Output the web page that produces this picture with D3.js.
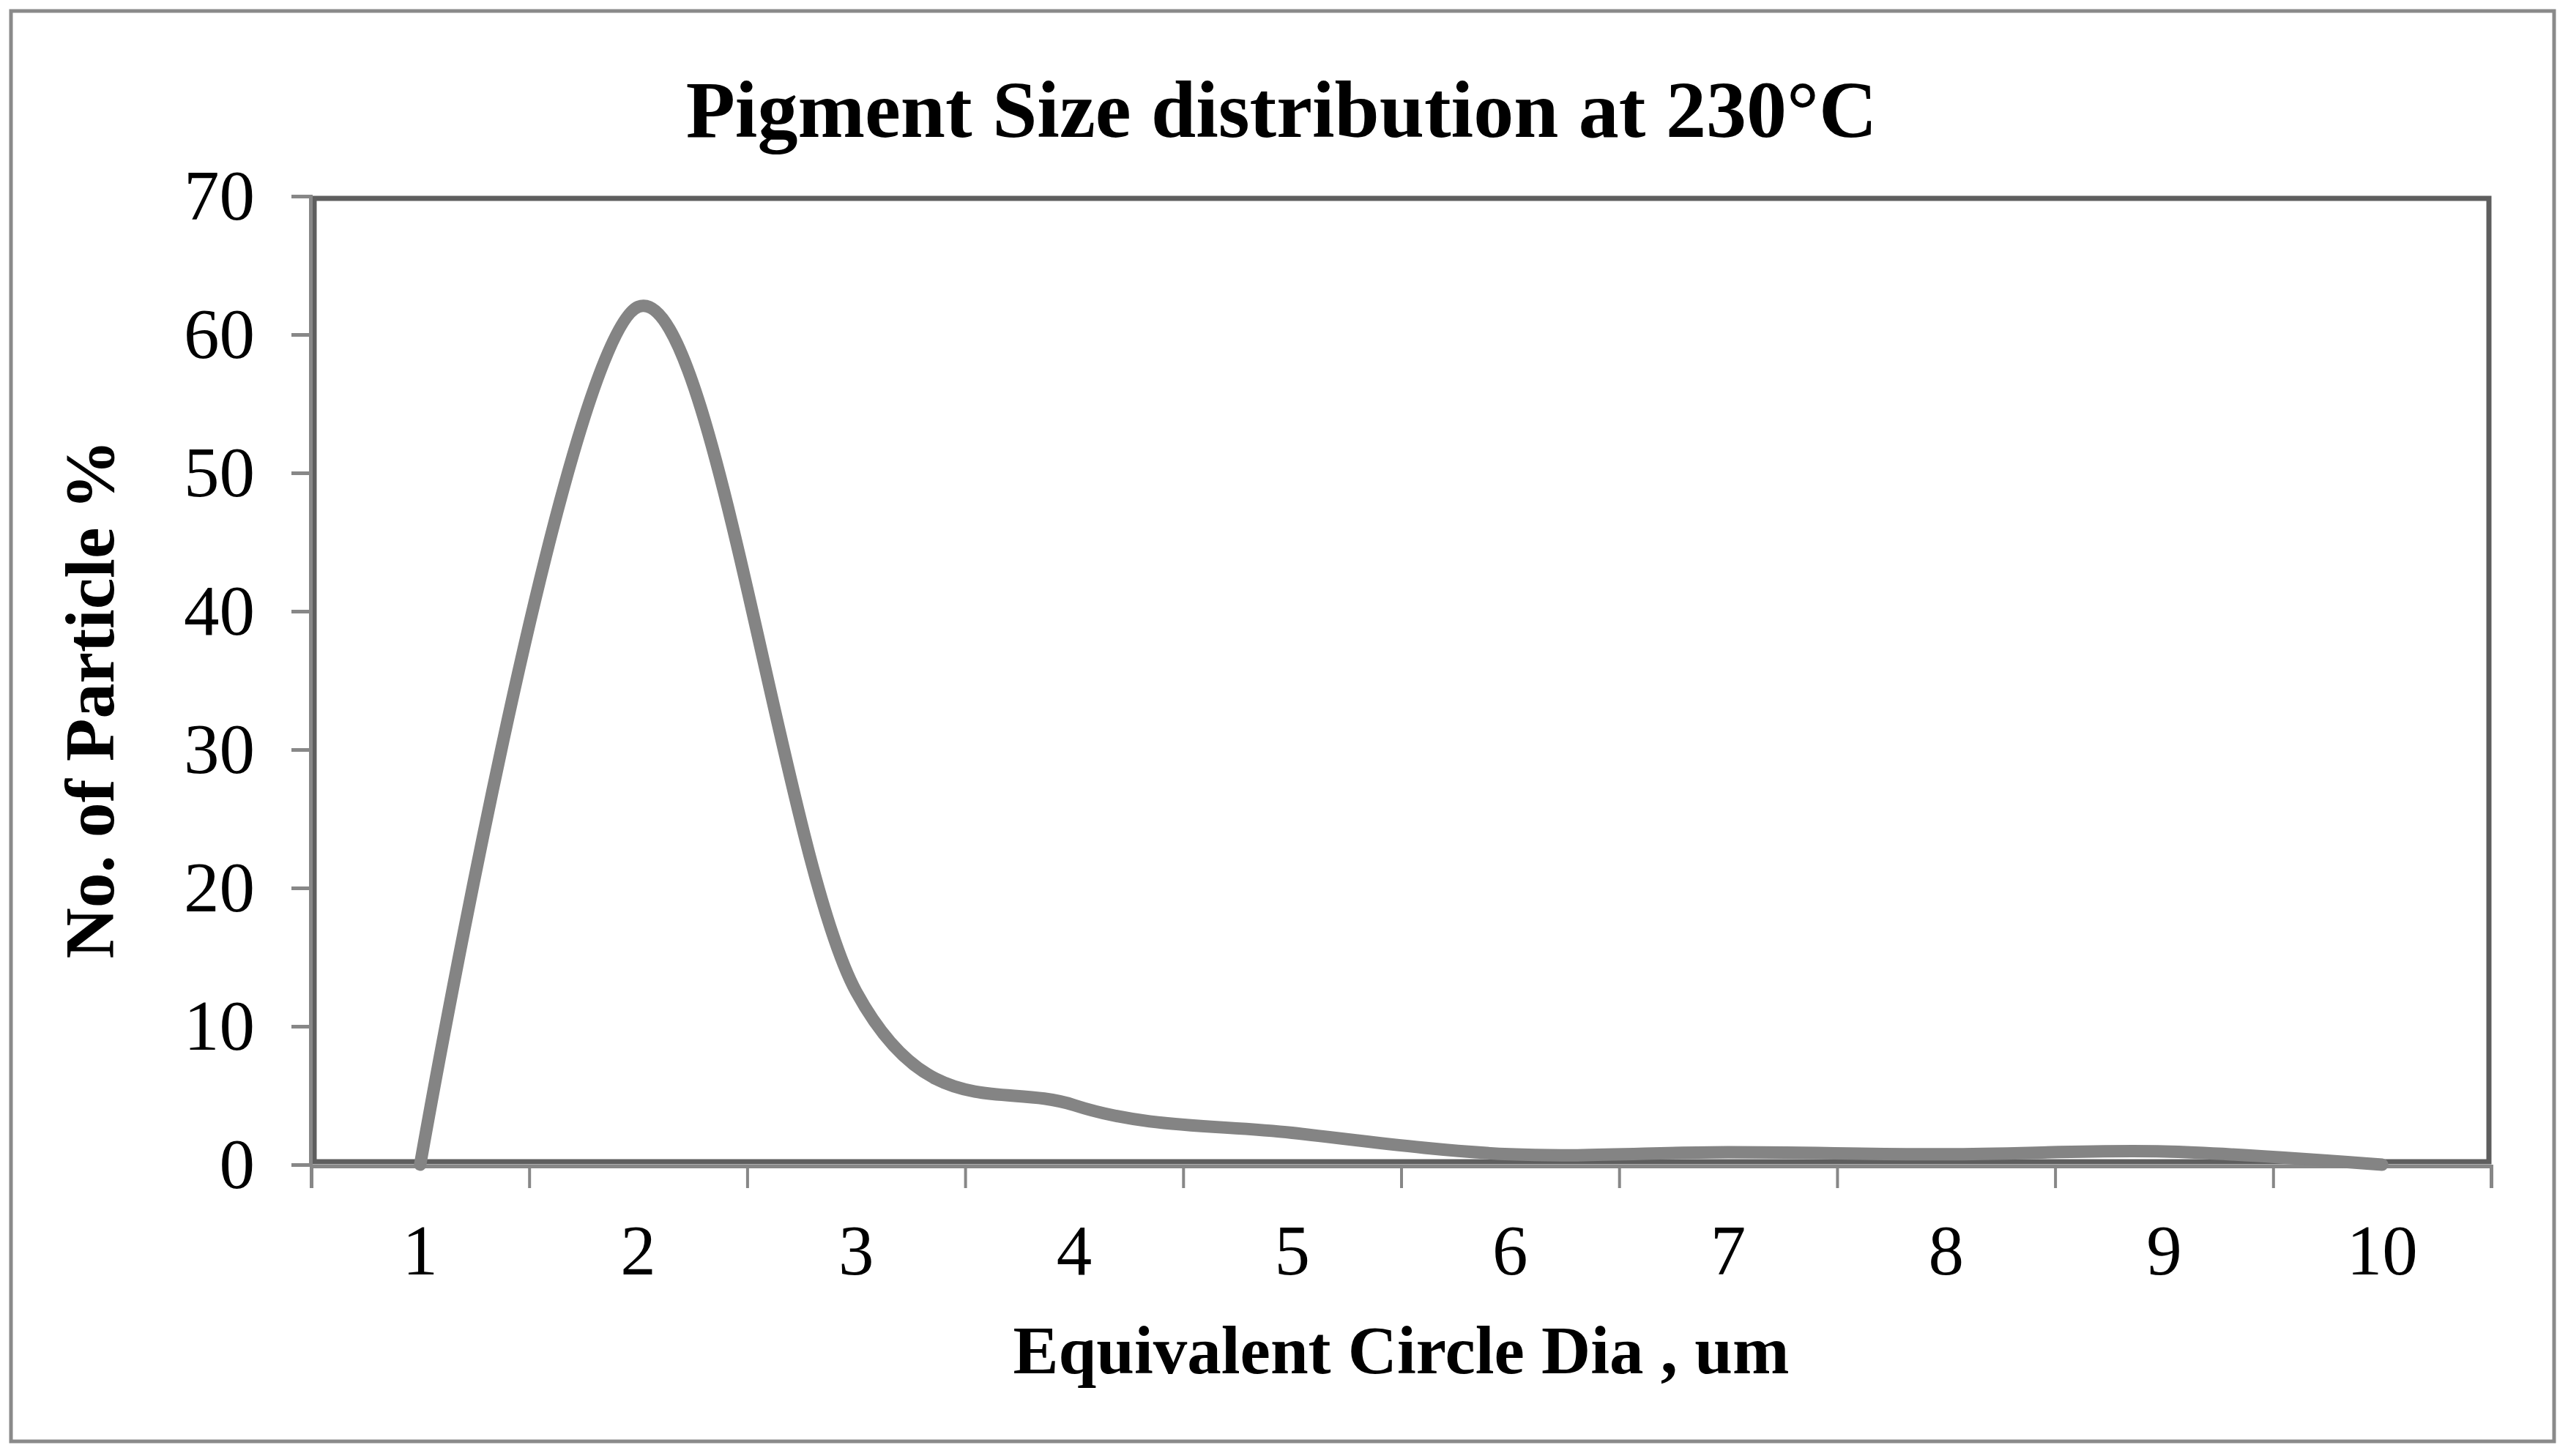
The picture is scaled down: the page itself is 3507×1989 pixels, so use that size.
<!DOCTYPE html>
<html>
<head>
<meta charset="utf-8">
<script src="https://cdn.jsdelivr.net/npm/d3@7"></script>
<style>
    body { margin: 0; background: #fff; }
    text { font-family: "Liberation Serif", "Times New Roman", serif; fill: #000; }
</style>
</head>
<body>
<div id="chart"></div>
<script>
"use strict";

// data
const categories = ["1", "2", "3", "4", "5", "6", "7", "8", "9", "10"];
const particlePct = [0, 62, 12.5, 4.3, 2.3, 0.75, 0.9, 0.75, 0.95, 0];
const yTicks = [0, 10, 20, 30, 40, 50, 60, 70];

const chartTitle = "Pigment Size distribution at 230°C";
const xTitle = "Equivalent Circle Dia , um";
const yTitle = "No. of Particle %";

const msm = {
    width: 3507,
    height: 1989,
    left: 425,
    right: 3402,
    top: 268,
    bottom: 1591
}

let svgContainer = "";

window.onload = function () {
    svgContainer = d3.select("#chart")
        .append("svg")
        .attr("width", msm.width)
        .attr("height", msm.height);

    // outer chart frame
    svgContainer.append("rect")
        .attr("x", 15)
        .attr("y", 15)
        .attr("width", 3473)
        .attr("height", 1954)
        .attr("fill", "#fff")
        .attr("stroke", "#8a8a8a")
        .attr("stroke-width", 5);

    let scales = drawAxes();
    plotLine(scales);
    makeLabels();
}

// axes, ticks and plot frame
function drawAxes() {
    let xScale = d3.scaleBand()
        .domain(categories)
        .range([msm.left, msm.right]);

    // linear helper so the ticks fall between categories like Excel
    let xEdge = d3.scaleLinear()
        .domain([0, categories.length])
        .range([msm.left, msm.right]);

    let yScale = d3.scaleLinear()
        .domain([0, 70])
        .range([msm.bottom, msm.top]);

    // plot area border
    svgContainer.append("rect")
        .attr("x", msm.left + 4)
        .attr("y", msm.top + 3)
        .attr("width", msm.right - msm.left - 7)
        .attr("height", msm.bottom - msm.top - 7)
        .attr("fill", "none")
        .attr("stroke", "#5e5e5e")
        .attr("stroke-width", 7);

    // y axis
    let yAxis = d3.axisLeft(yScale)
        .tickValues(yTicks)
        .tickSize(26)
        .tickPadding(50);
    let yG = svgContainer.append("g")
        .attr("transform", "translate(" + (msm.left - 1) + ",0)")
        .call(yAxis);
    yG.select(".domain").attr("stroke", "#878787").attr("stroke-width", 5);
    yG.selectAll(".tick line").attr("stroke", "#878787").attr("stroke-width", 5);
    yG.selectAll(".tick text")
        .style("font-family", "'Liberation Serif', 'Times New Roman', serif")
        .style("font-size", "97px")
        .attr("fill", "#000");

    // x axis tick marks at category edges
    let xTickAxis = d3.axisBottom(xEdge)
        .tickValues(d3.range(0, categories.length + 1))
        .tickSize(30)
        .tickFormat("");
    let xG = svgContainer.append("g")
        .attr("transform", "translate(0," + (msm.bottom + 2) + ")")
        .call(xTickAxis);
    xG.select(".domain").attr("stroke", "#878787").attr("stroke-width", 5);
    xG.selectAll(".tick line").attr("stroke", "#878787").attr("stroke-width", 4);

    // x axis category labels
    let xLabelAxis = d3.axisBottom(xScale)
        .tickSize(0)
        .tickPadding(81);
    let xL = svgContainer.append("g")
        .attr("transform", "translate(0," + msm.bottom + ")")
        .call(xLabelAxis);
    xL.select(".domain").remove();
    xL.selectAll(".tick text")
        .style("font-family", "'Liberation Serif', 'Times New Roman', serif")
        .style("font-size", "97px")
        .attr("fill", "#000");

    return { x: xScale, y: yScale };
}

// smoothed line like Excel's "smoothed line" option
function plotLine(scales) {
    let half = scales.x.bandwidth() / 2;
    let line = d3.line()
        .x((d, i) => scales.x(categories[i]) + half)
        .y((d) => scales.y(d))
        .curve(d3.curveCardinal.tension(0));

    svgContainer.append("path")
        .datum(particlePct)
        .attr("d", line)
        .attr("fill", "none")
        .attr("stroke", "#848484")
        .attr("stroke-width", 17)
        .attr("stroke-linecap", "round")
        .attr("stroke-linejoin", "round");
}

// title and axis titles
function makeLabels() {
    svgContainer.append("text")
        .attr("x", 1750)
        .attr("y", 187)
        .attr("text-anchor", "middle")
        .style("font-size", "110px")
        .style("font-weight", "bold")
        .text(chartTitle);

    svgContainer.append("text")
        .attr("x", (msm.left + msm.right) / 2)
        .attr("y", 1876)
        .attr("text-anchor", "middle")
        .style("font-size", "93px")
        .style("font-weight", "bold")
        .text(xTitle);

    svgContainer.append("text")
        .attr("transform", "translate(155,955) rotate(-90)")
        .attr("text-anchor", "middle")
        .style("font-size", "96px")
        .style("font-weight", "bold")
        .text(yTitle);
}
</script>
</body>
</html>
